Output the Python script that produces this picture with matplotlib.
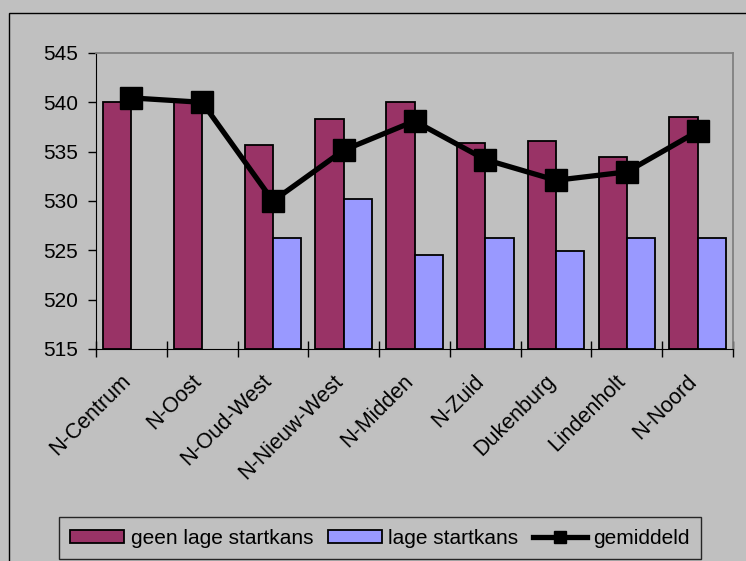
import matplotlib.pyplot as plt
import matplotlib.patches as mpatches
import matplotlib.transforms as mtransforms
from matplotlib.lines import Line2D
import numpy as np

# ── Data ─────────────────────────────────────────────────────
wijken = ["N-Centrum", "N-Oost", "N-Oud-West", "N-Nieuw-West", "N-Midden",
          "N-Zuid", "Dukenburg", "Lindenholt", "N-Noord"]
geen_lage = [540.0, 540.0, 535.65, 538.3, 540.0, 535.9, 536.05, 534.5, 538.5]
lage = [np.nan, np.nan, 526.3, 530.2, 524.5, 526.3, 524.95, 526.2, 526.2]
gemiddeld = [540.45, 540.0, 530.0, 535.15, 538.1, 534.2, 532.1, 532.95, 537.05]

plt.rcParams["font.family"] = ["Liberation Sans", "DejaVu Sans"]
BG = "#c0c0c0"
MAROON = "#993366"
BLUE = "#9999ff"
FS = 15

W, H = 746, 561
fig = plt.figure(figsize=(W / 100, H / 100), dpi=100, facecolor=BG)
ax = fig.add_axes([96 / W, 1 - 349 / H, (733 - 96) / W, (349 - 53) / H])
ax.set_facecolor(BG)

# outer chart border (cropped at right/bottom)
fig.patches.append(mpatches.Rectangle((9 / W, -0.1), 1.2, 1 - 13 / H + 0.1,
                                      transform=fig.transFigure, fill=False,
                                      edgecolor="black", linewidth=1))

x = np.arange(len(wijken))
bw = 0.4
ax.bar(x - bw / 2, np.array(geen_lage) - 515, bw, bottom=515, color=MAROON,
       edgecolor="black", linewidth=1.3, zorder=2)
ax.bar(x + bw / 2, np.array(lage) - 515, bw, bottom=515, color=BLUE,
       edgecolor="black", linewidth=1.3, zorder=2)
ax.plot(x, gemiddeld, color="black", linewidth=3.8, marker="s",
        markersize=16.5, zorder=3)

ax.set_xlim(-0.5, len(wijken) - 0.5)
ax.set_ylim(515, 545)
ax.set_yticks(range(515, 546, 5))
ax.tick_params(axis="y", direction="out", length=6, width=1, labelsize=FS, pad=7)

ax.set_xticks(np.arange(len(wijken) + 1) - 0.5)
ax.set_xticklabels([])
ax.tick_params(axis="x", direction="inout", length=11, width=1)
ax.set_xticks(x, minor=True)
ax.set_xticklabels(wijken, minor=True, rotation=45, ha="right", va="center",
                   rotation_mode="anchor", fontsize=15.5)
ax.tick_params(axis="x", which="minor", length=0, pad=21)
shift = mtransforms.ScaledTranslation(-4 / 100, 0, fig.dpi_scale_trans)
for lbl in ax.get_xticklabels(minor=True):
    lbl.set_transform(lbl.get_transform() + shift)

for side in ["top", "right"]:
    ax.spines[side].set_color("#808080")
    ax.spines[side].set_linewidth(1.3)
for side in ["left", "bottom"]:
    ax.spines[side].set_color("black")

handles = [
    mpatches.Patch(facecolor=MAROON, edgecolor="black", linewidth=1.3,
                   label="geen lage startkans"),
    mpatches.Patch(facecolor=BLUE, edgecolor="black", linewidth=1.3,
                   label="lage startkans"),
    Line2D([], [], color="black", linewidth=3.8, marker="s", markersize=8,
           label="gemiddeld"),
]
leg = fig.legend(handles=handles, loc="center", bbox_to_anchor=(380 / W, 1 - 538 / H),
                 ncol=3, frameon=True, fancybox=False, fontsize=FS,
                 handlelength=2.6, handleheight=0.6, handletextpad=0.3,
                 columnspacing=0.7, borderpad=0.55)
leg.get_frame().set_facecolor(BG)
leg.get_frame().set_edgecolor("black")
leg.get_frame().set_linewidth(1)

fig.savefig("out.png", dpi=100, facecolor=BG)
